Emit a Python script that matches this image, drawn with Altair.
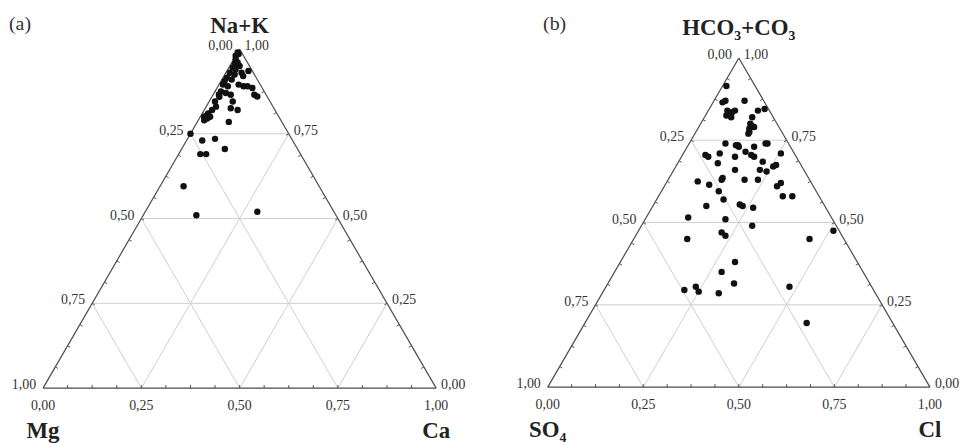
import math
import altair as alt
import pandas as pd

# ---------------- data (ternary fractions) ----------------
# Panel (a): cations. top vertex = Na+K, bottom axis (right vertex) = Ca, Mg = 1 - NaK - Ca
NAK_A = [0.99, 0.98, 0.97, 0.96, 0.955, 0.95, 0.945, 0.94, 0.93, 0.935,
         0.93, 0.925, 0.915, 0.91, 0.895, 0.89, 0.89, 0.885, 0.895, 0.89,
         0.875, 0.87, 0.865, 0.865, 0.865, 0.86, 0.845, 0.845, 0.83, 0.825,
         0.82, 0.81, 0.80, 0.80, 0.79, 0.795, 0.785, 0.82, 0.75, 0.73,
         0.735, 0.705, 0.69, 0.69, 0.595, 0.51, 0.52,
         0.985, 0.958, 0.905, 0.859, 0.92]
CA_A = [0.00, 0.00, 0.005, 0.015, 0.01, 0.025, 0.01, 0.02, 0.04, 0.055,
        0.01, 0.025, 0.01, 0.025, 0.05, 0.065, 0.075, 0.09, 0.01, 0.025,
        0.015, 0.03, 0.045, 0.015, 0.105, 0.115, 0.06, 0.015, 0.025, 0.065,
        0.02, 0.015, 0.01, 0.025, 0.015, 0.02, 0.08, 0.085, 0.00, 0.04,
        0.07, 0.11, 0.055, 0.07, 0.06, 0.135, 0.285,
        0.005, 0.01, 0.009, 0.019, 0.049]

# Panel (b): anions. top vertex = HCO3+CO3, bottom axis (right vertex) = Cl, SO4 = rest
HCO3_B = [0.915, 0.87, 0.865, 0.87, 0.84, 0.83, 0.835, 0.84, 0.825, 0.82,
          0.84, 0.845, 0.82, 0.795, 0.785, 0.775, 0.79, 0.80, 0.77, 0.74,
          0.735, 0.735, 0.73, 0.73, 0.74, 0.74, 0.705, 0.70, 0.71, 0.70,
          0.715, 0.705, 0.70, 0.68, 0.66, 0.685, 0.66, 0.655, 0.67, 0.675,
          0.71, 0.625, 0.615, 0.635, 0.63, 0.63, 0.63, 0.595, 0.61, 0.62,
          0.58, 0.58, 0.57, 0.55, 0.555, 0.55, 0.545, 0.515, 0.51, 0.49,
          0.45, 0.47, 0.46, 0.475, 0.45, 0.38, 0.35, 0.315, 0.295, 0.305,
          0.29, 0.285, 0.305, 0.195]
CL_B = [0.01, 0.03, 0.025, 0.08, 0.05, 0.06, 0.065, 0.07, 0.055, 0.07,
        0.13, 0.145, 0.125, 0.135, 0.135, 0.14, 0.145, 0.13, 0.14, 0.095,
        0.125, 0.13, 0.135, 0.175, 0.20, 0.205, 0.06, 0.07, 0.095, 0.14,
        0.16, 0.18, 0.19, 0.105, 0.16, 0.22, 0.225, 0.245, 0.255, 0.26,
        0.255, 0.08, 0.115, 0.14, 0.14, 0.20, 0.235, 0.15, 0.295, 0.30,
        0.325, 0.35, 0.175, 0.14, 0.225, 0.235, 0.265, 0.11, 0.21, 0.29,
        0.14, 0.22, 0.235, 0.51, 0.46, 0.30, 0.28, 0.33, 0.21, 0.235,
        0.25, 0.305, 0.48, 0.58]

TICK_VALUES = [0.0, 0.25, 0.5, 0.75, 1.0]
TICK_TEXT = ["0,00", "0,25", "0,50", "0,75", "1,00"]

TITLES_A = ["Na+K", "Mg", "Ca"]
TITLES_B = ["HCO\u2083+CO\u2083", "SO\u2084", "Cl"]

H = math.sqrt(3) / 2
SERIF = "Liberation Serif"
PW, PH = 476, 427


def frame_tables():
    edges, grid, ticks = [], [], []
    v = [(0, 0), (1, 0), (0.5, H)]
    for a, b in [(0, 1), (1, 2), (2, 0)]:
        edges.append(dict(x=v[a][0], y=v[a][1], x2=v[b][0], y2=v[b][1]))
    for g in [0.25, 0.5, 0.75]:
        grid.append(dict(x=g / 2, y=g * H, x2=1 - g / 2, y2=g * H))
        grid.append(dict(x=g, y=0, x2=(1 + g) / 2, y2=(1 - g) * H))
        grid.append(dict(x=1 - g, y=0, x2=(1 - g) / 2, y2=(1 - g) * H))
    L = 0.008
    for i in range(1, 16):
        s = i / 16
        ticks.append(dict(x=s, y=0, x2=s, y2=L))
        ticks.append(dict(x=s / 2, y=s * H, x2=s / 2 + L * H, y2=s * H - L * 0.5))
        ticks.append(dict(x=1 - s / 2, y=s * H, x2=1 - s / 2 - L * H, y2=s * H - L * 0.5))
    return pd.DataFrame(edges), pd.DataFrame(grid), pd.DataFrame(ticks)


def label_tables():
    left = pd.DataFrame({"t": TICK_VALUES, "text": TICK_TEXT[::-1]})
    right = pd.DataFrame({"t": TICK_VALUES, "text": TICK_TEXT})
    bottom = pd.DataFrame({"c": TICK_VALUES, "text": TICK_TEXT})
    return left, right, bottom


def panel(top_vals, right_vals, titles, tag, xdom, ydom, top_dy, tag_x):
    X = lambda f: alt.X(f, type="quantitative", scale=alt.Scale(domain=xdom, nice=False, zero=False), axis=None)
    Y = lambda f: alt.Y(f, type="quantitative", scale=alt.Scale(domain=ydom, nice=False, zero=False), axis=None)

    edges, grid, ticks = frame_tables()
    left, right, bottom = label_tables()

    grid_l = alt.Chart(grid).mark_rule(color="#cfcfcf", strokeWidth=1).encode(
        x=X("x"), y=Y("y"), x2="x2:Q", y2="y2:Q")
    tick_l = alt.Chart(ticks).mark_rule(color="#555555", strokeWidth=1).encode(
        x=X("x"), y=Y("y"), x2="x2:Q", y2="y2:Q")
    edge_l = alt.Chart(edges).mark_rule(color="#4a4a4a", strokeWidth=1.2).encode(
        x=X("x"), y=Y("y"), x2="x2:Q", y2="y2:Q")

    pts = pd.DataFrame({"top": top_vals, "right": right_vals})
    pts_l = alt.Chart(pts).transform_calculate(
        px="datum.right + datum.top / 2", py=f"datum.top * {H}"
    ).mark_circle(size=42, color="#111111", opacity=1).encode(x=X("px"), y=Y("py"))

    txt = dict(font=SERIF, fontSize=14, color="#333333")
    left_l = alt.Chart(left).transform_calculate(
        px="datum.t / 2", py=f"datum.t * {H}"
    ).mark_text(align="right", baseline="middle", dx=-7, dy=-3, **txt).encode(
        x=X("px"), y=Y("py"), text="text:N")
    right_l = alt.Chart(right).transform_calculate(
        px="1 - datum.t / 2", py=f"datum.t * {H}"
    ).mark_text(align="left", baseline="middle", dx=5, dy=-3, **txt).encode(
        x=X("px"), y=Y("py"), text="text:N")
    bottom_l = alt.Chart(bottom).transform_calculate(py="0").mark_text(
        align="center", baseline="middle", dy=18.5, **txt).encode(
        x=X("c"), y=Y("py"), text="text:N")

    tt = dict(font=SERIF, fontSize=23, fontWeight="bold", color="#222222", baseline="alphabetic", align="center")
    top_t = alt.Chart(pd.DataFrame({"px": [0.5], "py": [H], "text": [titles[0]]})).mark_text(
        dy=top_dy, **tt).encode(x=X("px"), y=Y("py"), text="text:N")
    bl_t = alt.Chart(pd.DataFrame({"px": [0.0], "py": [0.0], "text": [titles[1]]})).mark_text(
        dy=50, **tt).encode(x=X("px"), y=Y("py"), text="text:N")
    br_t = alt.Chart(pd.DataFrame({"px": [1.0], "py": [0.0], "text": [titles[2]]})).mark_text(
        dy=50, **tt).encode(x=X("px"), y=Y("py"), text="text:N")

    tag_l = alt.Chart(pd.DataFrame({"text": [tag]})).mark_text(
        font=SERIF, fontSize=20, color="#333333", align="left", baseline="middle").encode(
        x=alt.value(tag_x), y=alt.value(15), text="text:N")

    return alt.layer(grid_l, tick_l, edge_l, pts_l, left_l, right_l, bottom_l,
                     top_t, bl_t, br_t, tag_l).properties(width=PW, height=PH)


pa = panel(NAK_A, CA_A, TITLES_A, "(a)",
           xdom=[-0.08914, 1.11288], ydom=[-0.11584, 0.96663], top_dy=-16, tag_x=1)
pb = panel(HCO3_B, CL_B, TITLES_B, "(b)",
           xdom=[-0.17584, 1.06052], ydom=[-0.12196, 0.99319], top_dy=-23, tag_x=63)

chart = alt.hconcat(pa, pb, spacing=0, bounds="flush").properties(
    padding=0, background="white"
).configure_view(strokeWidth=0, stroke="transparent")

chart.save("out.html", embed_options={"renderer": "svg", "actions": False})
